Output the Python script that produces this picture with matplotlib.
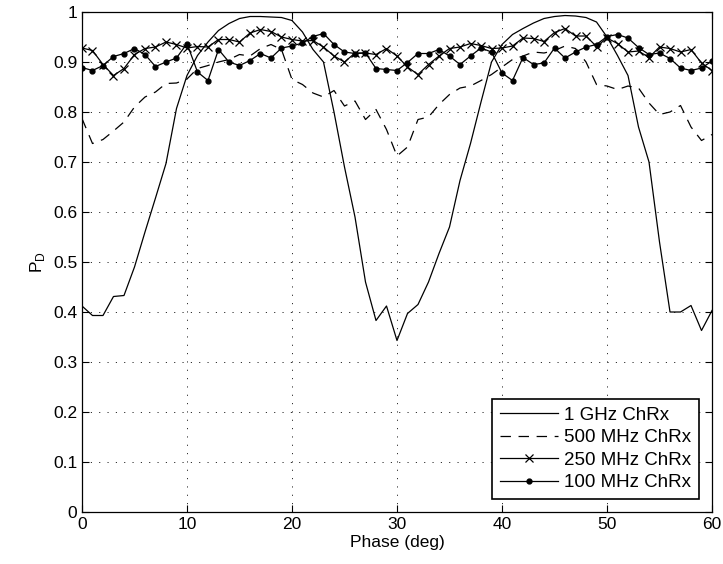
import matplotlib
matplotlib.use('Agg')
import matplotlib.pyplot as plt
import numpy as np

plt.rcParams['font.family'] = ['Liberation Sans', 'DejaVu Sans']
plt.rcParams['lines.scale_dashes'] = False

phase = np.arange(0, 61)

# P_D, one value per degree
pd_1ghz = [0.412, 0.393, 0.393, 0.431, 0.433, 0.49, 0.56, 0.628, 0.697, 0.807,
           0.873, 0.913, 0.94, 0.963, 0.977, 0.987, 0.991, 0.991, 0.99, 0.989,
           0.983, 0.96, 0.925, 0.9, 0.80, 0.69, 0.59, 0.46, 0.383, 0.412,
           0.343, 0.397, 0.415, 0.46, 0.517, 0.57, 0.663, 0.737, 0.82, 0.9,
           0.935, 0.955, 0.967, 0.978, 0.987, 0.991, 0.993, 0.992, 0.989, 0.98,
           0.95, 0.913, 0.873, 0.77, 0.70, 0.54, 0.40, 0.40, 0.413, 0.363,
           0.403]
pd_500mhz = [0.787, 0.737, 0.745, 0.762, 0.78, 0.81, 0.83, 0.84, 0.857, 0.858,
             0.866, 0.887, 0.893, 0.9, 0.905, 0.915, 0.912, 0.927, 0.935, 0.925,
             0.865, 0.855, 0.838, 0.83, 0.843, 0.812, 0.822, 0.785, 0.805, 0.765,
             0.712, 0.73, 0.785, 0.79, 0.815, 0.835, 0.848, 0.852, 0.863, 0.875,
             0.89, 0.905, 0.912, 0.92, 0.918, 0.923, 0.932, 0.927, 0.90, 0.855,
             0.852, 0.845, 0.852, 0.848, 0.818, 0.795, 0.80, 0.813, 0.77, 0.743,
             0.755]
pd_250mhz = [0.928, 0.923, 0.895, 0.873, 0.887, 0.915, 0.927, 0.93, 0.94, 0.935,
             0.928, 0.931, 0.93, 0.945, 0.945, 0.94, 0.958, 0.965, 0.961, 0.95,
             0.945, 0.942, 0.943, 0.93, 0.912, 0.9, 0.918, 0.918, 0.915, 0.927,
             0.912, 0.89, 0.875, 0.895, 0.912, 0.927, 0.93, 0.937, 0.933, 0.927,
             0.928, 0.932, 0.948, 0.947, 0.941, 0.959, 0.967, 0.952, 0.952, 0.931,
             0.948, 0.937, 0.92, 0.922, 0.909, 0.93, 0.927, 0.92, 0.925, 0.898,
             0.883]
pd_100mhz = [0.889, 0.883, 0.893, 0.911, 0.917, 0.927, 0.915, 0.891, 0.9, 0.908,
             0.937, 0.88, 0.863, 0.925, 0.9, 0.893, 0.903, 0.917, 0.908, 0.928,
             0.932, 0.938, 0.951, 0.957, 0.935, 0.92, 0.917, 0.918, 0.887, 0.885,
             0.883, 0.899, 0.917, 0.917, 0.925, 0.912, 0.895, 0.912, 0.928, 0.92,
             0.878, 0.863, 0.909, 0.895, 0.898, 0.928, 0.908, 0.92, 0.93, 0.935,
             0.951, 0.955, 0.948, 0.929, 0.915, 0.918, 0.907, 0.888, 0.883, 0.888,
             0.902]

fig = plt.figure(figsize=(7.23, 5.64), dpi=100)
ax = fig.add_axes([0.1134, 0.0922, 0.8714, 0.8865])

ax.plot(phase, pd_1ghz, color='k', lw=0.9, label='1 GHz ChRx')
ax.plot(phase, pd_500mhz, color='k', lw=0.9, dashes=(7.5, 5.5), label='500 MHz ChRx')
ax.plot(phase, pd_250mhz, color='k', lw=0.9, marker='x', ms=5.5, mew=0.9,
        label='250 MHz ChRx')
ax.plot(phase, pd_100mhz, color='k', lw=0.9, marker='.', ms=7,
        label='100 MHz ChRx')

ax.set_xlim(0, 60)
ax.set_ylim(0, 1)
ax.set_xticks(np.arange(0, 61, 10))
ax.set_yticks(np.arange(0, 1.01, 0.1))
ax.set_yticklabels(['0', '0.1', '0.2', '0.3', '0.4', '0.5', '0.6', '0.7',
                    '0.8', '0.9', '1'])
ax.tick_params(direction='in', length=5, width=0.8, labelsize=12.5,
               top=True, right=True)
ax.grid(True, color='k', lw=0.6, linestyle=(0, (0.8, 5.2)))
for s in ax.spines.values():
    s.set_linewidth(0.9)

ax.set_xlabel('Phase (deg)', fontsize=12.5, labelpad=2)
ax.set_ylabel('P$_\\mathregular{D}$', fontsize=12.5, labelpad=4)

# legend box sits inside the lower right corner, like the reference
leg = ax.legend(loc='lower right', bbox_to_anchor=(699 / 723, 65 / 564),
                bbox_transform=fig.transFigure, borderaxespad=0,
                fontsize=13.5, handlelength=3.1, labelspacing=0.28,
                borderpad=0.42, handletextpad=0.32,
                fancybox=False, framealpha=1, edgecolor='k')
leg.get_frame().set_linewidth(1.2)

fig.savefig('out.png', dpi=100)
